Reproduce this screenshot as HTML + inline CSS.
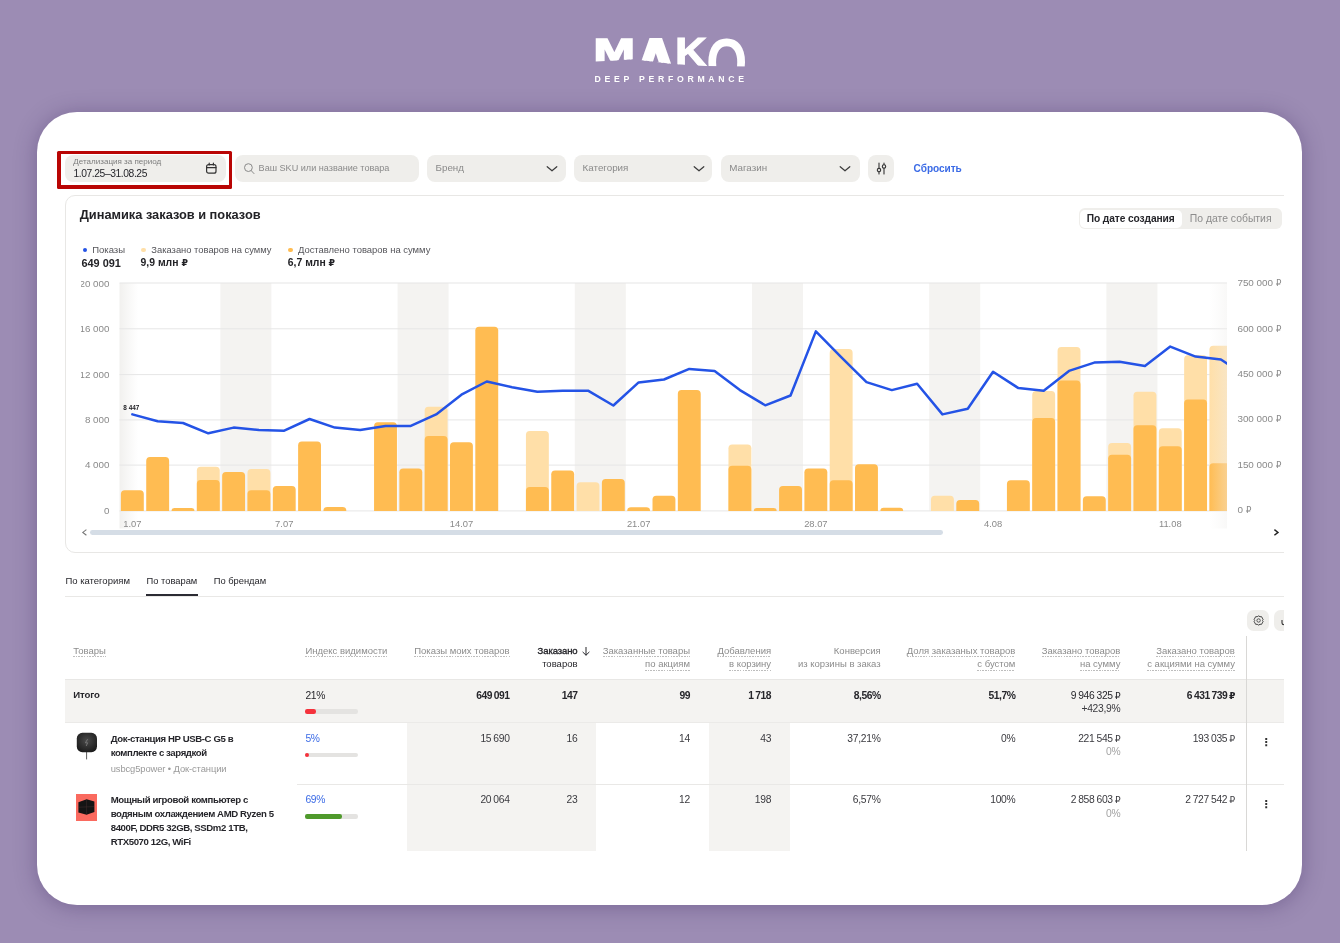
<!DOCTYPE html>
<html lang="ru"><head><meta charset="utf-8"><title>MAKO Deep Performance</title>
<style>
html,body{margin:0;padding:0}
body{width:1340px;height:943px;position:relative;overflow:hidden;background:#9c8cb4;font-family:"Liberation Sans","DejaVu Sans",sans-serif;}
.b{position:absolute;display:block}
.t{position:absolute;white-space:nowrap}
.card{position:absolute;left:37.3px;top:112.4px;width:1264.7px;height:793px;background:#fff;border-radius:40px;box-shadow:0 2px 22px rgba(50,28,84,.34)}
.clip{position:absolute;left:0;top:0;width:1284px;height:851px;overflow:hidden}
.u{padding-bottom:1.5px;background:repeating-linear-gradient(90deg,#bdbdbd 0 1.6px,transparent 1.6px 2.7px) left bottom/100% 1px no-repeat}
.r{font-size:.9em}
</style></head><body>

<svg class="b" style="left:580px;top:25px" width="180" height="70" viewBox="580 25 180 70"><defs><clipPath id="wave"><path d="M590,30H750V66.4L707,66.1L677,64.3L669,63.5L642,60.3L633,59.2L594,61.7L590,61.9Z"/></clipPath></defs><g clip-path="url(#wave)" font-family='"Liberation Sans",sans-serif' font-weight="bold" fill="#fff"><text transform="translate(593.66,60.60) scale(1.567,1)" font-size="31.40" stroke="#fff" stroke-width="1.6">M</text><text transform="translate(635.00,80.60) scale(0.966,1)" font-size="59.59" stroke="#fff" stroke-width="4.0">A</text><text transform="translate(674.89,66.40) scale(1.103,1)" font-size="40.12" stroke="#fff" stroke-width="1.0">K</text><text transform="translate(706.24,86.00) scale(0.761,1)" font-size="69.21">O</text></g><text x="594.6" y="81.6" font-family='"Liberation Sans",sans-serif' font-weight="bold" font-size="8.7" letter-spacing="3.7" fill="#fff">DEEP PERFORMANCE</text></svg>
<div class="card"></div>
<div class="clip">
<div class="b" style="left:57.40px;top:150.50px;width:174.80px;height:38.20px;background:#b90504;border-radius:1.5px;"></div>
<div class="b" style="left:60.65px;top:153.80px;width:168.15px;height:31.40px;background:#fff;"></div>
<div class="b" style="left:65.20px;top:155.10px;width:160.40px;height:26.90px;background:#efeeeb;border-radius:8px;"></div>
<div class="b" style="left:234.70px;top:155.10px;width:184.30px;height:26.90px;background:#efeeeb;border-radius:8px;"></div>
<div class="b" style="left:427.40px;top:155.10px;width:138.50px;height:26.90px;background:#efeeeb;border-radius:8px;"></div>
<div class="b" style="left:574.20px;top:155.10px;width:138.30px;height:26.90px;background:#efeeeb;border-radius:8px;"></div>
<div class="b" style="left:721.10px;top:155.10px;width:138.50px;height:26.90px;background:#efeeeb;border-radius:8px;"></div>
<div class="b" style="left:868.20px;top:155.10px;width:26.20px;height:26.90px;background:#efeeeb;border-radius:8px;"></div>
<div class="t" style="top:157.06px;font-size:8.05px;line-height:10.47px;color:#7d7d7d;left:73.30px;">Детализация за период</div>
<div class="t" style="top:166.61px;font-size:10.3px;line-height:13.39px;color:#26262b;letter-spacing:-0.42px;left:73.50px;">1.07.25–31.08.25</div>
<svg class="b" style="left:205px;top:161.5px" width="13" height="13" viewBox="0 0 13 13"><rect x="1.6" y="2.6" width="9.4" height="8.6" rx="2" fill="none" stroke="#333" stroke-width="1.2"/><path d="M1.6 5.6H11M4.2 1.2V3M8.4 1.2V3" stroke="#333" stroke-width="1.2" fill="none" stroke-linecap="round"/></svg>
<svg class="b" style="left:242.5px;top:162px" width="13" height="13" viewBox="0 0 13 13"><circle cx="5.4" cy="5.6" r="3.9" fill="none" stroke="#8a8a8a" stroke-width="1"/><path d="M8.2 8.6L11 11.6" stroke="#8a8a8a" stroke-width="1" stroke-linecap="round"/></svg>
<div class="t" style="top:162.89px;font-size:9.1px;line-height:11.83px;color:#8a8a8a;left:258.60px;">Ваш SKU или название товара</div>
<div class="t" style="top:162.03px;font-size:9.8px;line-height:12.74px;color:#8a8a8a;left:435.50px;">Бренд</div>
<div class="t" style="top:162.03px;font-size:9.8px;line-height:12.74px;color:#8a8a8a;left:582.60px;">Категория</div>
<div class="t" style="top:162.03px;font-size:9.8px;line-height:12.74px;color:#8a8a8a;left:729.30px;">Магазин</div>
<svg class="b" style="left:545.0px;top:163px" width="14" height="11" viewBox="0 0 14 11"><path d="M2.2 3.7L7 7.8L11.8 3.7" fill="none" stroke="#3a3a3a" stroke-width="1.2" stroke-linecap="round" stroke-linejoin="round"/></svg>
<svg class="b" style="left:691.8px;top:163px" width="14" height="11" viewBox="0 0 14 11"><path d="M2.2 3.7L7 7.8L11.8 3.7" fill="none" stroke="#3a3a3a" stroke-width="1.2" stroke-linecap="round" stroke-linejoin="round"/></svg>
<svg class="b" style="left:838.0px;top:163px" width="14" height="11" viewBox="0 0 14 11"><path d="M2.2 3.7L7 7.8L11.8 3.7" fill="none" stroke="#3a3a3a" stroke-width="1.2" stroke-linecap="round" stroke-linejoin="round"/></svg>
<svg class="b" style="left:875px;top:162px" width="13" height="13" viewBox="0 0 13 13"><path d="M4 1V6.2M4 10V12M9 1V2.6M9 6.4V12" stroke="#333" stroke-width="1.1" fill="none" stroke-linecap="round"/><circle cx="4" cy="8.1" r="1.7" fill="none" stroke="#333" stroke-width="1.1"/><circle cx="9" cy="4.5" r="1.7" fill="none" stroke="#333" stroke-width="1.1"/></svg>
<div class="t" style="top:161.84px;font-size:10.1px;line-height:13.13px;color:#3b6be6;font-weight:bold;letter-spacing:-0.05px;left:913.60px;">Сбросить</div>
<div class="b" style="left:64.90px;top:194.90px;width:1255.10px;height:357.70px;background:#fff;border-radius:10px;border:1px solid #e8e7e5;box-sizing:border-box;"></div>
<div class="t" style="top:207.08px;font-size:12.8px;line-height:16.64px;color:#222226;font-weight:bold;left:79.70px;">Динамика заказов и показов</div>
<div class="b" style="left:1078.70px;top:208.20px;width:203.00px;height:21.30px;background:#efeeeb;border-radius:6px;"></div>
<div class="b" style="left:1080.20px;top:209.50px;width:101.50px;height:18.70px;background:#fff;border-radius:5px;"></div>
<div class="t" style="top:212.27px;font-size:10.2px;line-height:13.26px;color:#26262b;font-weight:bold;letter-spacing:-0.1px;left:1086.80px;">По дате создания</div>
<div class="t" style="top:212.14px;font-size:10.4px;line-height:13.52px;color:#8c8c8c;left:1189.80px;">По дате события</div>
<div class="b" style="left:82.70px;top:247.60px;width:4.70px;height:4.70px;background:#2453e6;border-radius:3px;"></div>
<div class="t" style="top:243.72px;font-size:9.5px;line-height:12.35px;color:#55555a;left:92.20px;">Показы</div>
<div class="t" style="top:255.52px;font-size:10.9px;line-height:14.17px;color:#222226;font-weight:bold;left:81.50px;">649 091</div>
<div class="b" style="left:141.20px;top:247.60px;width:4.70px;height:4.70px;background:#ffdfa8;border-radius:3px;"></div>
<div class="t" style="top:243.79px;font-size:9.4px;line-height:12.22px;color:#55555a;left:151.30px;">Заказано товаров на сумму</div>
<div class="t" style="top:255.84px;font-size:10.4px;line-height:13.52px;color:#222226;font-weight:bold;left:140.60px;">9,9 млн <span class="r">₽</span></div>
<div class="b" style="left:287.90px;top:247.60px;width:4.70px;height:4.70px;background:#ffbc52;border-radius:3px;"></div>
<div class="t" style="top:243.75px;font-size:9.45px;line-height:12.29px;color:#55555a;left:297.90px;">Доставлено товаров на сумму</div>
<div class="t" style="top:255.84px;font-size:10.4px;line-height:13.52px;color:#222226;font-weight:bold;left:287.80px;">6,7 млн <span class="r">₽</span></div>
<svg class="b" style="left:0;top:0" width="1284" height="560" viewBox="0 0 1284 560">
<defs><clipPath id="cc"><rect x="119.3" y="270" width="1107.7" height="262"/></clipPath><linearGradient id="lg" x1="0" x2="1" y1="0" y2="0"><stop offset="0" stop-color="#f1f0ee" stop-opacity="1"/><stop offset="1" stop-color="#f3f2f0" stop-opacity="0"/></linearGradient><linearGradient id="rg" x1="0" x2="1" y1="0" y2="0"><stop offset="0" stop-color="#f3f2f0" stop-opacity="0"/><stop offset="1" stop-color="#efeeec" stop-opacity=".4"/></linearGradient></defs>
<g clip-path="url(#cc)">
<rect x="220.36" y="283" width="51.03" height="227.90" fill="#f4f3f1"/>
<rect x="397.56" y="283" width="51.03" height="227.90" fill="#f4f3f1"/>
<rect x="574.77" y="283" width="51.03" height="227.90" fill="#f4f3f1"/>
<rect x="751.98" y="283" width="51.03" height="227.90" fill="#f4f3f1"/>
<rect x="929.18" y="283" width="51.03" height="227.90" fill="#f4f3f1"/>
<rect x="1106.39" y="283" width="51.03" height="227.90" fill="#f4f3f1"/>
<rect x="1283.59" y="283" width="51.03" height="227.90" fill="#f4f3f1"/>
<rect x="119.3" y="283" width="19" height="245.5" fill="url(#lg)"/>
<rect x="119.3" y="282.50" width="1108" height="1" fill="#e6e6e6"/>
<rect x="119.3" y="328.30" width="1108" height="1" fill="#e6e6e6"/>
<rect x="119.3" y="374.10" width="1108" height="1" fill="#e6e6e6"/>
<rect x="119.3" y="419.40" width="1108" height="1" fill="#e6e6e6"/>
<rect x="119.3" y="464.60" width="1108" height="1" fill="#e6e6e6"/>
<rect x="119.3" y="510.40" width="1108" height="1" fill="#e6e6e6"/>
<path d="M120.90,510.90V494.10Q120.90,490.30 124.70,490.30H140.00Q143.80,490.30 143.80,494.10V510.90Z" fill="#ffbc52"/>
<path d="M146.22,510.90V460.90Q146.22,457.10 150.02,457.10H165.31Q169.12,457.10 169.12,460.90V510.90Z" fill="#ffbc52"/>
<path d="M171.53,510.90V510.90Q171.53,508.00 174.43,508.00H191.53Q194.43,508.00 194.43,510.90V510.90Z" fill="#ffbc52"/>
<path d="M196.85,510.90V470.60Q196.85,466.80 200.65,466.80H215.95Q219.75,466.80 219.75,470.60V510.90Z" fill="#ffdfa8"/>
<path d="M196.85,510.90V483.80Q196.85,480.00 200.65,480.00H215.95Q219.75,480.00 219.75,483.80V510.90Z" fill="#ffbc52"/>
<path d="M222.16,510.90V475.80Q222.16,472.00 225.96,472.00H241.26Q245.06,472.00 245.06,475.80V510.90Z" fill="#ffbc52"/>
<path d="M247.48,510.90V472.90Q247.48,469.10 251.28,469.10H266.57Q270.38,469.10 270.38,472.90V510.90Z" fill="#ffdfa8"/>
<path d="M247.48,510.90V494.10Q247.48,490.30 251.28,490.30H266.57Q270.38,490.30 270.38,494.10V510.90Z" fill="#ffbc52"/>
<path d="M272.79,510.90V489.80Q272.79,486.00 276.59,486.00H291.89Q295.69,486.00 295.69,489.80V510.90Z" fill="#ffbc52"/>
<path d="M298.11,510.90V445.40Q298.11,441.60 301.91,441.60H317.20Q321.00,441.60 321.00,445.40V510.90Z" fill="#ffbc52"/>
<path d="M323.42,510.90V510.70Q323.42,506.90 327.22,506.90H342.52Q346.32,506.90 346.32,510.70V510.90Z" fill="#ffbc52"/>
<path d="M374.05,510.90V426.00Q374.05,422.20 377.85,422.20H393.15Q396.95,422.20 396.95,426.00V510.90Z" fill="#ffbc52"/>
<path d="M399.37,510.90V472.30Q399.37,468.50 403.17,468.50H418.46Q422.26,468.50 422.26,472.30V510.90Z" fill="#ffbc52"/>
<path d="M424.68,510.90V410.50Q424.68,406.70 428.48,406.70H443.78Q447.58,406.70 447.58,410.50V510.90Z" fill="#ffdfa8"/>
<path d="M424.68,510.90V439.70Q424.68,435.90 428.48,435.90H443.78Q447.58,435.90 447.58,439.70V510.90Z" fill="#ffbc52"/>
<path d="M450.00,510.90V446.00Q450.00,442.20 453.80,442.20H469.09Q472.89,442.20 472.89,446.00V510.90Z" fill="#ffbc52"/>
<path d="M475.31,510.90V330.60Q475.31,326.80 479.11,326.80H494.41Q498.21,326.80 498.21,330.60V510.90Z" fill="#ffbc52"/>
<path d="M525.94,510.90V434.80Q525.94,431.00 529.74,431.00H545.04Q548.84,431.00 548.84,434.80V510.90Z" fill="#ffdfa8"/>
<path d="M525.94,510.90V490.70Q525.94,486.90 529.74,486.90H545.04Q548.84,486.90 548.84,490.70V510.90Z" fill="#ffbc52"/>
<path d="M551.25,510.90V474.30Q551.25,470.50 555.05,470.50H570.36Q574.15,470.50 574.15,474.30V510.90Z" fill="#ffbc52"/>
<path d="M576.57,510.90V486.10Q576.57,482.30 580.37,482.30H595.67Q599.47,482.30 599.47,486.10V510.90Z" fill="#ffdfa8"/>
<path d="M601.88,510.90V482.90Q601.88,479.10 605.68,479.10H620.99Q624.78,479.10 624.78,482.90V510.90Z" fill="#ffbc52"/>
<path d="M627.20,510.90V510.90Q627.20,507.20 630.90,507.20H646.40Q650.10,507.20 650.10,510.90V510.90Z" fill="#ffbc52"/>
<path d="M652.51,510.90V499.50Q652.51,495.70 656.31,495.70H671.62Q675.41,495.70 675.41,499.50V510.90Z" fill="#ffbc52"/>
<path d="M677.83,510.90V393.90Q677.83,390.10 681.63,390.10H696.93Q700.73,390.10 700.73,393.90V510.90Z" fill="#ffbc52"/>
<path d="M728.46,510.90V448.30Q728.46,444.50 732.26,444.50H747.56Q751.36,444.50 751.36,448.30V510.90Z" fill="#ffdfa8"/>
<path d="M728.46,510.90V469.50Q728.46,465.70 732.26,465.70H747.56Q751.36,465.70 751.36,469.50V510.90Z" fill="#ffbc52"/>
<path d="M753.77,510.90V510.90Q753.77,508.00 756.67,508.00H773.77Q776.67,508.00 776.67,510.90V510.90Z" fill="#ffbc52"/>
<path d="M779.09,510.90V489.80Q779.09,486.00 782.89,486.00H798.19Q801.99,486.00 801.99,489.80V510.90Z" fill="#ffbc52"/>
<path d="M804.40,510.90V472.30Q804.40,468.50 808.20,468.50H823.50Q827.30,468.50 827.30,472.30V510.90Z" fill="#ffbc52"/>
<path d="M829.72,510.90V352.90Q829.72,349.10 833.52,349.10H848.82Q852.62,349.10 852.62,352.90V510.90Z" fill="#ffdfa8"/>
<path d="M829.72,510.90V484.10Q829.72,480.30 833.52,480.30H848.82Q852.62,480.30 852.62,484.10V510.90Z" fill="#ffbc52"/>
<path d="M855.03,510.90V468.00Q855.03,464.20 858.83,464.20H874.13Q877.93,464.20 877.93,468.00V510.90Z" fill="#ffbc52"/>
<path d="M880.35,510.90V510.90Q880.35,507.80 883.45,507.80H900.15Q903.25,507.80 903.25,510.90V510.90Z" fill="#ffbc52"/>
<path d="M930.98,510.90V499.50Q930.98,495.70 934.78,495.70H950.08Q953.88,495.70 953.88,499.50V510.90Z" fill="#ffdfa8"/>
<path d="M956.30,510.90V503.80Q956.30,500.00 960.10,500.00H975.40Q979.20,500.00 979.20,503.80V510.90Z" fill="#ffbc52"/>
<path d="M1006.93,510.90V484.10Q1006.93,480.30 1010.73,480.30H1026.03Q1029.83,480.30 1029.83,484.10V510.90Z" fill="#ffbc52"/>
<path d="M1032.24,510.90V394.80Q1032.24,391.00 1036.04,391.00H1051.34Q1055.14,391.00 1055.14,394.80V510.90Z" fill="#ffdfa8"/>
<path d="M1032.24,510.90V421.90Q1032.24,418.10 1036.04,418.10H1051.34Q1055.14,418.10 1055.14,421.90V510.90Z" fill="#ffbc52"/>
<path d="M1057.56,510.90V350.90Q1057.56,347.10 1061.36,347.10H1076.66Q1080.46,347.10 1080.46,350.90V510.90Z" fill="#ffdfa8"/>
<path d="M1057.56,510.90V384.40Q1057.56,380.60 1061.36,380.60H1076.66Q1080.46,380.60 1080.46,384.40V510.90Z" fill="#ffbc52"/>
<path d="M1082.87,510.90V500.10Q1082.87,496.30 1086.67,496.30H1101.97Q1105.77,496.30 1105.77,500.10V510.90Z" fill="#ffbc52"/>
<path d="M1108.19,510.90V446.90Q1108.19,443.10 1111.99,443.10H1127.29Q1131.09,443.10 1131.09,446.90V510.90Z" fill="#ffdfa8"/>
<path d="M1108.19,510.90V458.60Q1108.19,454.80 1111.99,454.80H1127.29Q1131.09,454.80 1131.09,458.60V510.90Z" fill="#ffbc52"/>
<path d="M1133.50,510.90V395.60Q1133.50,391.80 1137.30,391.80H1152.60Q1156.40,391.80 1156.40,395.60V510.90Z" fill="#ffdfa8"/>
<path d="M1133.50,510.90V429.10Q1133.50,425.30 1137.30,425.30H1152.60Q1156.40,425.30 1156.40,429.10V510.90Z" fill="#ffbc52"/>
<path d="M1158.82,510.90V432.00Q1158.82,428.20 1162.62,428.20H1177.92Q1181.72,428.20 1181.72,432.00V510.90Z" fill="#ffdfa8"/>
<path d="M1158.82,510.90V450.00Q1158.82,446.20 1162.62,446.20H1177.92Q1181.72,446.20 1181.72,450.00V510.90Z" fill="#ffbc52"/>
<path d="M1184.13,510.90V359.00Q1184.13,355.20 1187.93,355.20H1203.23Q1207.03,355.20 1207.03,359.00V510.90Z" fill="#ffdfa8"/>
<path d="M1184.13,510.90V403.30Q1184.13,399.50 1187.93,399.50H1203.23Q1207.03,399.50 1207.03,403.30V510.90Z" fill="#ffbc52"/>
<path d="M1209.45,510.90V349.50Q1209.45,345.70 1213.25,345.70H1228.55Q1232.35,345.70 1232.35,349.50V510.90Z" fill="#ffdfa8"/>
<path d="M1209.45,510.90V467.10Q1209.45,463.30 1213.25,463.30H1228.55Q1232.35,463.30 1232.35,467.10V510.90Z" fill="#ffbc52"/>
<rect x="1209" y="283" width="18" height="245.5" fill="url(#rg)"/>
<polyline points="132.35,414.40 157.66,421.30 182.98,423.00 208.30,433.30 233.61,427.60 258.93,429.90 284.24,430.70 309.56,419.00 334.87,427.60 360.19,429.90 385.50,425.90 410.81,425.90 436.13,414.40 461.44,394.70 486.76,381.50 512.08,387.20 537.39,391.80 562.71,390.70 588.02,390.70 613.34,405.50 638.65,382.40 663.97,379.50 689.28,368.90 714.60,370.90 739.91,390.10 765.23,405.30 790.54,395.50 815.86,331.40 841.17,357.20 866.49,382.10 891.80,390.10 917.12,383.80 942.43,414.40 967.75,408.70 993.06,371.80 1018.38,388.10 1043.69,390.70 1069.01,370.90 1094.32,362.60 1119.64,361.70 1144.95,366.00 1170.27,346.60 1195.58,356.60 1220.90,359.50 1246.21,376.00" fill="none" stroke="#2453e6" stroke-width="2.5" stroke-linejoin="round" stroke-linecap="round"/>
</g>
</svg>
<div class="b" style="left:81px;top:270px;width:40px;height:250px;overflow:hidden">
<div class="t" style="right:11.60px;top:7.90px;font-size:9.8px;line-height:12px;color:#8a8a8a">20 000</div>
<div class="t" style="right:11.60px;top:53.00px;font-size:9.8px;line-height:12px;color:#8a8a8a">16 000</div>
<div class="t" style="right:11.60px;top:98.60px;font-size:9.8px;line-height:12px;color:#8a8a8a">12 000</div>
<div class="t" style="right:11.60px;top:143.90px;font-size:9.8px;line-height:12px;color:#8a8a8a">8 000</div>
<div class="t" style="right:11.60px;top:189.10px;font-size:9.8px;line-height:12px;color:#8a8a8a">4 000</div>
<div class="t" style="right:11.60px;top:234.90px;font-size:9.8px;line-height:12px;color:#8a8a8a">0</div>
</div>
<div class="t" style="top:277.46px;font-size:9.9px;line-height:12.87px;color:#8a8a8a;left:1237.40px;">750 000 <span class="r">₽</span></div>
<div class="t" style="top:322.56px;font-size:9.9px;line-height:12.87px;color:#8a8a8a;left:1237.40px;">600 000 <span class="r">₽</span></div>
<div class="t" style="top:368.17px;font-size:9.9px;line-height:12.87px;color:#8a8a8a;left:1237.40px;">450 000 <span class="r">₽</span></div>
<div class="t" style="top:413.46px;font-size:9.9px;line-height:12.87px;color:#8a8a8a;left:1237.40px;">300 000 <span class="r">₽</span></div>
<div class="t" style="top:458.67px;font-size:9.9px;line-height:12.87px;color:#8a8a8a;left:1237.40px;">150 000 <span class="r">₽</span></div>
<div class="t" style="top:504.46px;font-size:9.9px;line-height:12.87px;color:#8a8a8a;left:1237.40px;">0 <span class="r">₽</span></div>
<div class="t" style="top:517.59px;font-size:9.4px;line-height:12.22px;color:#8a8a8a;left:-17.65px;width:300px;text-align:center;">1.07</div>
<div class="t" style="top:517.59px;font-size:9.4px;line-height:12.22px;color:#8a8a8a;left:134.24px;width:300px;text-align:center;">7.07</div>
<div class="t" style="top:517.59px;font-size:9.4px;line-height:12.22px;color:#8a8a8a;left:311.44px;width:300px;text-align:center;">14.07</div>
<div class="t" style="top:517.59px;font-size:9.4px;line-height:12.22px;color:#8a8a8a;left:488.65px;width:300px;text-align:center;">21.07</div>
<div class="t" style="top:517.59px;font-size:9.4px;line-height:12.22px;color:#8a8a8a;left:665.86px;width:300px;text-align:center;">28.07</div>
<div class="t" style="top:517.59px;font-size:9.4px;line-height:12.22px;color:#8a8a8a;left:843.06px;width:300px;text-align:center;">4.08</div>
<div class="t" style="top:517.59px;font-size:9.4px;line-height:12.22px;color:#8a8a8a;left:1020.27px;width:300px;text-align:center;">11.08</div>
<div class="t" style="top:404.34px;font-size:6.4px;line-height:8.32px;color:#222226;font-weight:bold;left:123.30px;">8 447</div>
<div class="b" style="left:90.20px;top:530.30px;width:852.80px;height:4.80px;background:#d5dde6;border-radius:2.4px;"></div>
<svg class="b" style="left:81px;top:527.8px" width="8" height="9" viewBox="0 0 8 9"><path d="M5.4 1.6L1.8 4.4L5.4 7.2" fill="none" stroke="#777" stroke-width="1.1"/></svg>
<svg class="b" style="left:1272px;top:527.5px" width="8" height="9" viewBox="0 0 8 9"><path d="M2.4 1.6L6 4.4L2.4 7.2" fill="none" stroke="#222" stroke-width="1.4"/></svg>
<div class="t" style="top:574.53px;font-size:9.5px;line-height:12.35px;color:#26262b;left:65.40px;">По категориям</div>
<div class="t" style="top:574.62px;font-size:9.35px;line-height:12.15px;color:#26262b;left:146.50px;">По товарам</div>
<div class="t" style="top:574.62px;font-size:9.35px;line-height:12.15px;color:#26262b;left:213.70px;">По брендам</div>
<div class="b" style="left:65.00px;top:596.00px;width:1225.00px;height:1.00px;background:#e9e8e6;"></div>
<div class="b" style="left:146.20px;top:594.00px;width:51.60px;height:2.20px;background:#2b2b33;"></div>
<div class="b" style="left:1247.30px;top:609.90px;width:21.60px;height:21.30px;background:#efeeeb;border-radius:6.5px;"></div>
<div class="b" style="left:1274.00px;top:609.90px;width:22.00px;height:21.30px;background:#efeeeb;border-radius:6.5px;"></div>
<svg class="b" style="left:1253px;top:615px" width="11" height="11" viewBox="0 0 11 11"><path d="M5.6 0.9L7 1.7L8.6 1.7L9.3 3.1L10.1 4.4L9.5 5.5L10.1 6.6L9.3 7.9L8.6 9.3L7 9.3L5.6 10.1L4.2 9.3L2.6 9.3L1.9 7.9L1.1 6.6L1.7 5.5L1.1 4.4L1.9 3.1L2.6 1.7L4.2 1.7Z" fill="none" stroke="#444" stroke-width="1" stroke-linejoin="round"/><circle cx="5.6" cy="5.5" r="1.7" fill="none" stroke="#444" stroke-width="0.9"/></svg>
<svg class="b" style="left:1278.6px;top:617px" width="6" height="9" viewBox="0 0 6 9"><path d="M3 3V6Q3 7.8 5.5 7.8" fill="none" stroke="#333" stroke-width="1.1"/></svg>
<div class="b" style="left:65.20px;top:679.10px;width:1224.80px;height:43.60px;background:#f4f3f1;"></div>
<div class="b" style="left:407.00px;top:722.70px;width:188.70px;height:128.30px;background:#f4f3f1;"></div>
<div class="b" style="left:709.00px;top:722.70px;width:80.60px;height:128.30px;background:#f4f3f1;"></div>
<div class="b" style="left:65.20px;top:678.60px;width:1224.80px;height:0.80px;background:#e8e7e5;"></div>
<div class="b" style="left:65.20px;top:722.30px;width:1224.80px;height:0.80px;background:#ebeae8;"></div>
<div class="b" style="left:297.40px;top:783.80px;width:992.60px;height:0.90px;background:#e9e8e6;"></div>
<div class="b" style="left:1246.10px;top:636.40px;width:1.10px;height:214.60px;background:#d9d8d6;"></div>
<div class="t" style="top:644.62px;font-size:9.5px;line-height:12.35px;color:#8c8c8c;left:73.20px;"><span class="u" >Товары</span></div>
<div class="t" style="top:644.62px;font-size:9.5px;line-height:12.35px;color:#8c8c8c;left:305.40px;"><span class="u" >Индекс видимости</span></div>
<div class="t" style="top:644.62px;font-size:9.5px;line-height:12.35px;color:#8c8c8c;right:774.40px;"><span class="u" >Показы моих товаров</span></div>
<div class="t" style="top:644.62px;font-size:9.5px;line-height:12.35px;color:#26262b;letter-spacing:-0.1px;right:706.50px;-webkit-text-stroke:0.35px #26262b;">Заказано</div>
<div class="t" style="top:658.23px;font-size:9.5px;line-height:12.35px;color:#26262b;right:706.50px;">товаров</div>
<svg class="b" style="left:580.5px;top:645.5px" width="10" height="11" viewBox="0 0 10 11"><path d="M5 1.4V9M1.9 6.2L5 9.2L8.1 6.2" fill="none" stroke="#26262b" stroke-width="1" stroke-linecap="round" stroke-linejoin="round"/></svg>
<div class="t" style="top:644.62px;font-size:9.5px;line-height:12.35px;color:#8c8c8c;right:594.00px;"><span class="u" >Заказанные товары</span></div><div class="t" style="top:658.23px;font-size:9.5px;line-height:12.35px;color:#8c8c8c;right:594.00px;"><span class="u" >по акциям</span></div>
<div class="t" style="top:644.62px;font-size:9.5px;line-height:12.35px;color:#8c8c8c;right:512.90px;"><span class="u" >Добавления</span></div><div class="t" style="top:658.23px;font-size:9.5px;line-height:12.35px;color:#8c8c8c;right:512.90px;"><span class="u" >в корзину</span></div>
<div class="t" style="top:644.62px;font-size:9.5px;line-height:12.35px;color:#8c8c8c;right:403.40px;">Конверсия</div><div class="t" style="top:658.23px;font-size:9.5px;line-height:12.35px;color:#8c8c8c;right:403.40px;">из корзины в заказ</div>
<div class="t" style="top:644.62px;font-size:9.5px;line-height:12.35px;color:#8c8c8c;right:268.60px;"><span class="u" >Доля заказаных товаров</span></div><div class="t" style="top:658.23px;font-size:9.5px;line-height:12.35px;color:#8c8c8c;right:268.60px;"><span class="u" >с бустом</span></div>
<div class="t" style="top:644.62px;font-size:9.5px;line-height:12.35px;color:#8c8c8c;right:163.60px;"><span class="u" >Заказано товаров</span></div><div class="t" style="top:658.23px;font-size:9.5px;line-height:12.35px;color:#8c8c8c;right:163.60px;"><span class="u" >на сумму</span></div>
<div class="t" style="top:644.62px;font-size:9.5px;line-height:12.35px;color:#8c8c8c;right:49.10px;"><span class="u" >Заказано товаров</span></div><div class="t" style="top:658.23px;font-size:9.5px;line-height:12.35px;color:#8c8c8c;right:49.10px;"><span class="u" >с акциями на сумму</span></div>
<div class="t" style="top:689.16px;font-size:9.6px;line-height:12.48px;color:#26262b;font-weight:bold;letter-spacing:-0.1px;left:73.20px;">Итого</div>
<div class="t" style="top:688.70px;font-size:10.3px;line-height:13.39px;color:#26262b;letter-spacing:-0.28px;left:305.40px;">21%</div>
<div class="b" style="left:305.40px;top:709.30px;width:52.90px;height:4.30px;background:#e4e3e1;border-radius:2.2px;"></div>
<div class="b" style="left:305.40px;top:709.30px;width:10.90px;height:4.30px;background:#f5323c;border-radius:2.2px;"></div>
<div class="t" style="top:688.70px;font-size:10.3px;line-height:13.39px;color:#26262b;font-weight:bold;letter-spacing:-0.48000000000000004px;right:774.40px;word-spacing:-0.6px;">649 091</div><div class="t" style="top:688.70px;font-size:10.3px;line-height:13.39px;color:#26262b;font-weight:bold;letter-spacing:-0.48000000000000004px;right:706.50px;word-spacing:-0.6px;">147</div><div class="t" style="top:688.70px;font-size:10.3px;line-height:13.39px;color:#26262b;font-weight:bold;letter-spacing:-0.48000000000000004px;right:594.00px;word-spacing:-0.6px;">99</div><div class="t" style="top:688.70px;font-size:10.3px;line-height:13.39px;color:#26262b;font-weight:bold;letter-spacing:-0.48000000000000004px;right:512.90px;word-spacing:-0.6px;">1 718</div><div class="t" style="top:688.70px;font-size:10.3px;line-height:13.39px;color:#26262b;font-weight:bold;letter-spacing:-0.48000000000000004px;right:403.40px;word-spacing:-0.6px;">8,56%</div><div class="t" style="top:688.70px;font-size:10.3px;line-height:13.39px;color:#26262b;font-weight:bold;letter-spacing:-0.48000000000000004px;right:268.60px;word-spacing:-0.6px;">51,7%</div><div class="t" style="top:688.70px;font-size:10.3px;line-height:13.39px;color:#26262b;letter-spacing:-0.28px;right:163.60px;word-spacing:-0.6px;">9 946 325 <span class="r">₽</span></div><div class="t" style="top:688.70px;font-size:10.3px;line-height:13.39px;color:#26262b;font-weight:bold;letter-spacing:-0.48000000000000004px;right:49.10px;word-spacing:-0.6px;">6 431 739 <span class="r">₽</span></div>
<div class="t" style="top:702.00px;font-size:10.3px;line-height:13.39px;color:#3a3a3f;letter-spacing:-0.28px;right:163.60px;">+423,9%</div>
<svg class="b" style="left:75px;top:731px" width="24" height="30" viewBox="0 0 24 30"><defs><radialGradient id="dk" cx=".5" cy=".4" r=".7"><stop offset="0" stop-color="#4a4a4a"/><stop offset="1" stop-color="#161616"/></radialGradient></defs><path d="M11.6 20V28.4" stroke="#333" stroke-width="0.8"/><rect x="1.8" y="1.8" width="20.2" height="19.4" rx="5.6" fill="url(#dk)"/><path d="M12.6 8.2L10.4 11.8H12.6L11.2 15" stroke="#8a8a8a" stroke-width="0.7" fill="none"/></svg>
<div class="t" style="top:732.56px;font-size:9.6px;line-height:12.48px;color:#26262b;font-weight:bold;letter-spacing:-0.39px;left:110.70px;">Док-станция HP USB-C G5 в</div>
<div class="t" style="top:746.86px;font-size:9.6px;line-height:12.48px;color:#26262b;font-weight:bold;letter-spacing:-0.39px;left:110.70px;">комплекте с зарядкой</div>
<div class="t" style="top:762.99px;font-size:9.4px;line-height:12.22px;color:#9a9a9a;letter-spacing:-0.1px;left:110.70px;">usbcg5power • Док-станции</div>
<div class="t" style="top:731.60px;font-size:10.3px;line-height:13.39px;color:#3b6be6;letter-spacing:-0.28px;left:305.40px;">5%</div>
<div class="b" style="left:305.40px;top:752.80px;width:52.90px;height:4.20px;background:#e4e3e1;border-radius:2.2px;"></div>
<div class="b" style="left:305.40px;top:752.80px;width:3.40px;height:4.20px;background:#f5323c;border-radius:2.2px;"></div>
<div class="t" style="top:731.60px;font-size:10.3px;line-height:13.39px;color:#3a3a3f;letter-spacing:-0.28px;right:774.40px;word-spacing:-0.6px;">15 690</div><div class="t" style="top:731.60px;font-size:10.3px;line-height:13.39px;color:#3a3a3f;letter-spacing:-0.28px;right:706.50px;word-spacing:-0.6px;">16</div><div class="t" style="top:731.60px;font-size:10.3px;line-height:13.39px;color:#3a3a3f;letter-spacing:-0.28px;right:594.00px;word-spacing:-0.6px;">14</div><div class="t" style="top:731.60px;font-size:10.3px;line-height:13.39px;color:#3a3a3f;letter-spacing:-0.28px;right:512.90px;word-spacing:-0.6px;">43</div><div class="t" style="top:731.60px;font-size:10.3px;line-height:13.39px;color:#3a3a3f;letter-spacing:-0.28px;right:403.40px;word-spacing:-0.6px;">37,21%</div><div class="t" style="top:731.60px;font-size:10.3px;line-height:13.39px;color:#3a3a3f;letter-spacing:-0.28px;right:268.60px;word-spacing:-0.6px;">0%</div><div class="t" style="top:731.60px;font-size:10.3px;line-height:13.39px;color:#3a3a3f;letter-spacing:-0.28px;right:163.60px;word-spacing:-0.6px;">221 545 <span class="r">₽</span></div><div class="t" style="top:731.60px;font-size:10.3px;line-height:13.39px;color:#3a3a3f;letter-spacing:-0.28px;right:49.10px;word-spacing:-0.6px;">193 035 <span class="r">₽</span></div>
<div class="t" style="top:744.80px;font-size:10.3px;line-height:13.39px;color:#a3a3a3;letter-spacing:-0.28px;right:163.60px;">0%</div>
<div class="t" style="top:735.05px;font-size:11px;line-height:14.3px;color:#333;font-weight:bold;left:1116.00px;width:300px;text-align:center;">⋮</div>
<div class="b" style="left:76.10px;top:794.10px;width:20.50px;height:26.70px;background:#fa6a5f;"></div>
<svg class="b" style="left:77px;top:798px" width="19" height="18" viewBox="0 0 19 18"><path d="M1.4 4.2L9.6 1.2L17.4 3.6V14L9.6 16.8L1.4 14.6Z" fill="#141414"/><path d="M9.6 1.6V16.4M2 9.2L17 8.6" stroke="#3a2a2a" stroke-width="0.6"/></svg>
<div class="t" style="top:794.36px;font-size:9.6px;line-height:12.48px;color:#26262b;font-weight:bold;letter-spacing:-0.39px;left:110.70px;">Мощный игровой компьютер с</div>
<div class="t" style="top:808.31px;font-size:9.6px;line-height:12.48px;color:#26262b;font-weight:bold;letter-spacing:-0.39px;left:110.70px;">водяным охлаждением AMD Ryzen 5</div>
<div class="t" style="top:822.26px;font-size:9.6px;line-height:12.48px;color:#26262b;font-weight:bold;letter-spacing:-0.39px;left:110.70px;">8400F, DDR5 32GB, SSDm2 1TB,</div>
<div class="t" style="top:836.21px;font-size:9.6px;line-height:12.48px;color:#26262b;font-weight:bold;letter-spacing:-0.39px;left:110.70px;">RTX5070 12G, WiFi</div>
<div class="t" style="top:793.10px;font-size:10.3px;line-height:13.39px;color:#3b6be6;letter-spacing:-0.28px;left:305.40px;">69%</div>
<div class="b" style="left:305.40px;top:814.40px;width:52.90px;height:4.30px;background:#e4e3e1;border-radius:2.2px;"></div>
<div class="b" style="left:305.40px;top:814.40px;width:36.90px;height:4.30px;background:#4f9a2c;border-radius:2.2px;"></div>
<div class="t" style="top:793.10px;font-size:10.3px;line-height:13.39px;color:#3a3a3f;letter-spacing:-0.28px;right:774.40px;word-spacing:-0.6px;">20 064</div><div class="t" style="top:793.10px;font-size:10.3px;line-height:13.39px;color:#3a3a3f;letter-spacing:-0.28px;right:706.50px;word-spacing:-0.6px;">23</div><div class="t" style="top:793.10px;font-size:10.3px;line-height:13.39px;color:#3a3a3f;letter-spacing:-0.28px;right:594.00px;word-spacing:-0.6px;">12</div><div class="t" style="top:793.10px;font-size:10.3px;line-height:13.39px;color:#3a3a3f;letter-spacing:-0.28px;right:512.90px;word-spacing:-0.6px;">198</div><div class="t" style="top:793.10px;font-size:10.3px;line-height:13.39px;color:#3a3a3f;letter-spacing:-0.28px;right:403.40px;word-spacing:-0.6px;">6,57%</div><div class="t" style="top:793.10px;font-size:10.3px;line-height:13.39px;color:#3a3a3f;letter-spacing:-0.28px;right:268.60px;word-spacing:-0.6px;">100%</div><div class="t" style="top:793.10px;font-size:10.3px;line-height:13.39px;color:#3a3a3f;letter-spacing:-0.28px;right:163.60px;word-spacing:-0.6px;">2 858 603 <span class="r">₽</span></div><div class="t" style="top:793.10px;font-size:10.3px;line-height:13.39px;color:#3a3a3f;letter-spacing:-0.28px;right:49.10px;word-spacing:-0.6px;">2 727 542 <span class="r">₽</span></div>
<div class="t" style="top:806.90px;font-size:10.3px;line-height:13.39px;color:#a3a3a3;letter-spacing:-0.28px;right:163.60px;">0%</div>
<div class="t" style="top:797.15px;font-size:11px;line-height:14.3px;color:#333;font-weight:bold;left:1116.00px;width:300px;text-align:center;">⋮</div>
</div>
</body></html>
